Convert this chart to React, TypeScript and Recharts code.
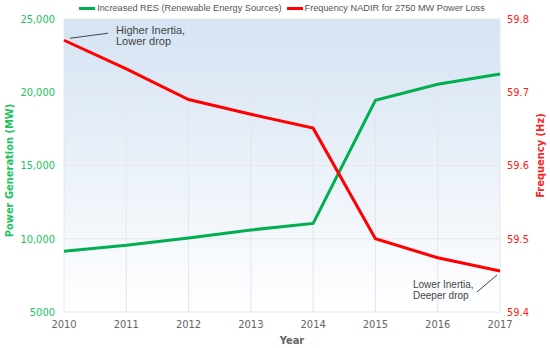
import { LineChart, Line, XAxis, YAxis, CartesianGrid, Legend, ReferenceDot } from "recharts";

const years = ["2010", "2011", "2012", "2013", "2014", "2015", "2016", "2017"];
const resMW = [9150, 9550, 10050, 10600, 11050, 19450, 20550, 21250];
const nadirHz = [59.771, 59.732, 59.69, 59.67, 59.651, 59.5, 59.474, 59.456];
const mwTicks = [5000, 10000, 15000, 20000, 25000];
const hzTicks = [59.4, 59.5, 59.6, 59.7, 59.8];

const data = years.map((year, i) => ({ year, res: resMW[i], nadir: nadirHz[i] }));

const GREEN = "#00b050";
const GREEN_TEXT = "#1bc260";
const RED = "#ff0000";
const RED_TEXT = "#ff2020";
const tickFont = '"DejaVu Sans Condensed", "DejaVu Sans", sans-serif';
const noteFont = '"Liberation Sans", Arial, sans-serif';

const ChartLegend = () => (
  <div
    style={{
      display: "flex",
      justifyContent: "center",
      alignItems: "center",
      height: 16,
      paddingBottom: 3,
      paddingLeft: 14,
      fontFamily: noteFont,
      fontSize: 9.2,
      color: "#555",
    }}
  >
    <span style={{ display: "inline-block", width: 16, height: 3, background: GREEN, marginRight: 2 }} />
    <span style={{ marginRight: 5 }}>Increased RES (Renewable Energy Sources)</span>
    <span style={{ display: "inline-block", width: 16, height: 3, background: RED, marginRight: 2 }} />
    <span>Frequency NADIR for 2750 MW Power Loss</span>
  </div>
);

// annotation near the first red point
const HighNote = ({ cx, cy }: any) => (
  <g>
    <line x1={cx + 6} y1={cy - 2} x2={cx + 44} y2={cy - 7} stroke="#444" strokeWidth={1} />
    <text x={cx + 52} y={cy - 6} fontSize={11} fontFamily={noteFont} fill="#444">
      Higher Inertia,
    </text>
    <text x={cx + 52} y={cy + 5} fontSize={11} fontFamily={noteFont} fill="#444">
      Lower drop
    </text>
  </g>
);

// annotation near the last red point
const LowNote = ({ cx, cy }: any) => (
  <g>
    <line x1={cx - 23} y1={cy + 21} x2={cx - 3} y2={cy + 4} stroke="#444" strokeWidth={1} />
    <text x={cx - 87} y={cy + 17} fontSize={10} fontFamily={noteFont} fill="#444">
      Lower Inertia,
    </text>
    <text x={cx - 87} y={cy + 28} fontSize={10} fontFamily={noteFont} fill="#444">
      Deeper drop
    </text>
  </g>
);

export default function App() {
  return (
    <div style={{ width: 550, height: 348 }}>
      <style>{"body{margin:0}"}</style>
      <LineChart width={550} height={348} data={data} margin={{ top: 0, right: 0, bottom: 0, left: 0 }}>
        <defs>
          <linearGradient id="plotBg" x1="0" y1="0" x2="0" y2="1">
            <stop offset="0%" stopColor="#d5e3f3" />
            <stop offset="100%" stopColor="#ffffff" />
          </linearGradient>
        </defs>
        <Legend verticalAlign="top" content={<ChartLegend />} />
        <CartesianGrid yAxisId="mw" fill="url(#plotBg)" fillOpacity={1} stroke="#e4e6ea" />
        <XAxis
          dataKey="year"
          height={36}
          axisLine={false}
          tickLine={false}
          tick={{ fill: "#666", fontSize: 11, fontFamily: tickFont }}
          label={{
            content: (p: any) => (
              <text
                x={p.viewBox.x + p.viewBox.width / 2 + 10}
                y={p.viewBox.y + 28}
                textAnchor="middle"
                dominantBaseline="central"
                fontSize={11}
                fontWeight="bold"
                fontFamily={tickFont}
                fill="#666"
              >
                Year
              </text>
            ),
          }}
        />
        <YAxis
          yAxisId="mw"
          width={64}
          domain={[5000, 25000]}
          ticks={mwTicks}
          axisLine={false}
          tickLine={false}
          tickMargin={3}
          tick={{ fill: GREEN_TEXT, fontSize: 11, fontFamily: tickFont }}
          tickFormatter={(v: number) => (v === 5000 ? "5000" : v.toLocaleString("en-US"))}
          label={{
            content: (p: any) => {
              const x = p.viewBox.x + 9;
              const y = p.viewBox.y + p.viewBox.height / 2 + 5;
              return (
                <text
                  x={x}
                  y={y}
                  transform={`rotate(-90, ${x}, ${y})`}
                  textAnchor="middle"
                  dominantBaseline="central"
                  fontSize={11}
                  fontWeight="bold"
                  fontFamily={tickFont}
                  fill={GREEN_TEXT}
                >
                  Power Generation (MW)
                </text>
              );
            },
          }}
        />
        <YAxis
          yAxisId="hz"
          orientation="right"
          width={50}
          domain={[59.4, 59.8]}
          ticks={hzTicks}
          axisLine={false}
          tickLine={false}
          tickMargin={1}
          tick={{ fill: RED_TEXT, fontSize: 11, fontFamily: tickFont }}
          tickFormatter={(v: number) => v.toFixed(1)}
          label={{
            content: (p: any) => {
              const x = p.viewBox.x + p.viewBox.width - 10;
              const y = p.viewBox.y + p.viewBox.height / 2 - 10;
              return (
                <text
                  x={x}
                  y={y}
                  transform={`rotate(-90, ${x}, ${y})`}
                  textAnchor="middle"
                  dominantBaseline="central"
                  fontSize={11}
                  fontWeight="bold"
                  fontFamily={tickFont}
                  fill={RED_TEXT}
                >
                  Frequency (Hz)
                </text>
              );
            },
          }}
        />
        <Line
          yAxisId="mw"
          type="linear"
          dataKey="res"
          stroke={GREEN}
          strokeWidth={3}
          dot={false}
          isAnimationActive={false}
        />
        <Line
          yAxisId="hz"
          type="linear"
          dataKey="nadir"
          stroke={RED}
          strokeWidth={3}
          dot={false}
          isAnimationActive={false}
        />
        <ReferenceDot yAxisId="hz" x={years[0]} y={nadirHz[0]} r={3} shape={HighNote} />
        <ReferenceDot
          yAxisId="hz"
          x={years[years.length - 1]}
          y={nadirHz[nadirHz.length - 1]}
          r={3}
          shape={LowNote}
        />
      </LineChart>
    </div>
  );
}
